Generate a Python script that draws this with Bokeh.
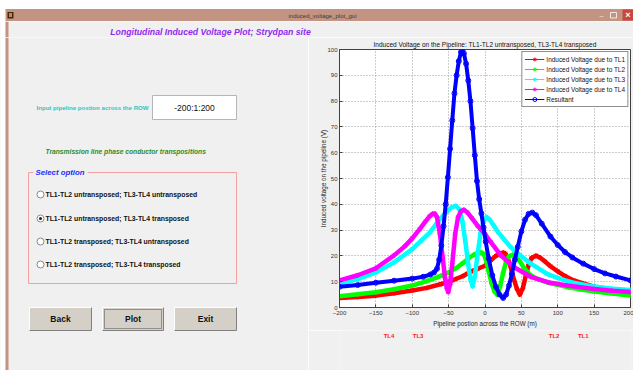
from bokeh.plotting import figure
from bokeh.models import Range1d, FixedTicker, Legend, LegendItem
from bokeh.layouts import row, column
from bokeh.embed import file_html
from bokeh.resources import INLINE
from bokeh.core.properties import value

FONT = "Liberation Sans"
GUI_BG = "#F0F0F0"
FRAME_BROWN = "#C39482"

# ---------------- data ----------------
x_ticks = [-200, -150, -100, -50, 0, 50, 100, 150, 200]
y_ticks = [0, 10, 20, 30, 40, 50, 60, 70, 80, 90, 100]

tl1_x = [-200, -175, -150, -125, -100, -80, -60, -45, -30, -20, -10, 0, 8, 15, 20, 25, 28, 31, 34, 37,
         40, 44, 48, 52, 56, 60, 64, 70, 76, 82, 90, 100, 110, 122, 135, 150, 175, 200]
tl1_v = [3.7, 4.1, 4.6, 5.5, 6.6, 7.6, 9.1, 10.5, 12.2, 13.9, 15.0, 16.2, 18.3, 20.0, 20.9, 21.3, 20.9, 19.4, 17.0, 13.8,
         10.6, 7.2, 5.0, 7.5, 12.2, 16.6, 19.2, 20.1, 19.3, 17.9, 16.0, 14.0, 12.2, 10.5, 9.3, 8.1, 6.7, 5.5]

tl2_x = [-200, -175, -150, -125, -100, -80, -65, -50, -40, -30, -22, -15, -10, -6, -2, 1, 5, 9, 13, 17,
         21, 25, 29, 33, 38, 43, 48, 54, 62, 70, 86, 100, 115, 130, 150, 175, 200]
tl2_v = [4.4, 5.1, 5.9, 7.1, 8.5, 10.2, 11.8, 13.6, 15.2, 17.3, 19.2, 20.5, 21.1, 21.4, 20.8, 18.8, 14.2, 9.4, 6.2, 5.0,
         8.5, 13.5, 17.8, 19.8, 20.4, 19.5, 17.8, 15.2, 12.7, 11.3, 9.7, 8.8, 7.8, 7.1, 6.2, 5.4, 4.6]

tl3_x = [-200, -175, -150, -125, -100, -88, -76, -64, -54, -46, -40, -35, -31, -27, -23, -20, -17, -14, -10, -6,
         -2, 2, 6, 12, 18, 25, 35, 45, 63, 86, 100, 118, 150, 175, 200]
tl3_v = [9.2, 11.0, 13.6, 17.5, 22.6, 25.8, 29.0, 33.5, 36.8, 38.8, 39.4, 38.0, 33.2, 25.5, 16.5, 11.0, 8.2, 12.0, 21.0, 29.0,
         33.5, 35.0, 34.2, 31.8, 29.2, 26.8, 23.5, 20.9, 17.0, 12.9, 11.5, 9.8, 8.1, 7.3, 6.8]

tl4_x = [-200, -175, -150, -125, -110, -100, -90, -82, -76, -72, -69, -66, -62, -58, -55, -52.5, -50.5, -48, -45, -41,
         -37, -33, -29, -24, -18, -10, 0, 8, 22, 40, 63, 86, 113, 150, 175, 200]
tl4_v = [10.5, 12.5, 15.2, 20.2, 23.8, 26.8, 30.3, 33.3, 35.4, 36.3, 36.4, 35.0, 28.5, 19.0, 11.5, 7.5, 6.0, 9.0, 17.0, 28.5,
         35.0, 37.3, 37.9, 36.8, 34.6, 31.6, 28.5, 25.3, 20.1, 15.6, 11.9, 9.8, 8.5, 7.2, 6.5, 6.0]

res_x = [-200, -175, -150, -125, -100, -85, -75, -70, -66, -63, -60, -57, -54, -51, -48, -45, -42, -39, -36, -33,
         -31, -29, -26, -23, -20, -17, -14, -11, -8, -5, -2, 1, 5, 10, 15, 20, 25, 29, 33, 37,
         41, 45, 50, 55, 60, 65, 70, 78, 90, 100, 110, 120, 135, 150, 165, 180, 200]
res_v = [8.0, 8.7, 9.6, 10.4, 11.2, 11.9, 12.8, 13.6, 15.0, 18.5, 24.0, 31.5, 40.0, 50.5, 61.5, 72.5, 83.0, 90.0, 95.5, 99.0,
         99.5, 98.5, 94.5, 88.0, 80.0, 69.5, 59.0, 49.0, 42.0, 36.5, 31.0, 25.5, 19.0, 12.5, 8.0, 5.0, 3.7, 5.0, 8.5, 13.0,
         18.5, 23.5, 29.5, 34.0, 36.3, 36.8, 35.8, 32.5, 27.5, 24.2, 21.5, 19.4, 17.0, 14.9, 13.2, 12.0, 10.5]

series_labels = ["Induced Voltage due to TL1", "Induced Voltage due to TL2",
                 "Induced Voltage due to TL3", "Induced Voltage due to TL4", "Resultant"]
series_colors = ["#FF0000", "#00FF00", "#00FFFF", "#FF00FF", "#0000FF"]

tl_names = ["TL4", "TL3", "TL2", "TL1"]
tl_pos = [-132, -92, 95, 135]

options = ["TL1-TL2 untransposed; TL3-TL4 untransposed",
           "TL1-TL2 untransposed; TL3-TL4 transposed",
           "TL1-TL2 transposed; TL3-TL4 untransposed",
           "TL1-TL2 transposed; TL3-TL4 transposed"]
selected_option = 1
buttons = ["Back", "Plot", "Exit"]

window_title = "induced_voltage_plot_gui"
header = "Longitudinal Induced Voltage Plot; Strydpan site"
chart_title = "Induced Voltage on the Pipeline: TL1-TL2 untransposed, TL3-TL4 transposed"


def canvas(w, h, bg):
    f = figure(width=w, height=h, x_range=Range1d(0, w), y_range=Range1d(h, 0),
               output_backend="svg", toolbar_location=None,
               x_axis_location=None, y_axis_location=None, min_border=0)
    f.outline_line_color = None
    f.background_fill_color = bg
    f.border_fill_color = bg
    f.grid.visible = False
    return f


def txt(f, x, y, s, size, color="#000000", style="normal", align="left", font=FONT):
    f.text(x=[x], y=[y], text=[s], text_font=value(font), text_font_size=size,
           text_font_style=style, text_color=color, text_align=align, text_baseline="middle")


def window_edge(f, h):
    f.quad(left=[0], right=[5], top=[0], bottom=[h], fill_color="#FFFFFF", line_color=None)
    f.quad(left=[5], right=[8], top=[0], bottom=[h], fill_color=FRAME_BROWN, line_color=None)


# ---------------- window title bar (page y 0..21) ----------------
top = canvas(633, 21, "#FFFFFF")
top.quad(left=[5], right=[633], top=[8.5], bottom=[21], fill_color=FRAME_BROWN, line_color=None)
top.quad(left=[7], right=[13], top=[11.5], bottom=[18], fill_color="#3A2A20", line_color=None)
top.quad(left=[8.5], right=[11.5], top=[12.5], bottom=[16.5], fill_color="#E08020", line_color=None)
txt(top, 322, 15, window_title, "6px", "#3A3A3A", align="center")
txt(top, 601, 14.5, "\u2013", "7px", "#F4E8E2", align="center")
top.quad(left=[610], right=[616], top=[12], bottom=[17.5], fill_color=None, line_color="#F4E8E2", line_width=1)
top.quad(left=[622], right=[633], top=[9], bottom=[20], fill_color="#C9463D", line_color=None)
txt(top, 627.5, 14.5, "\u00d7", "9px", "#FFFFFF", "bold", align="center")

# ---------------- header strip (page y 21..37) ----------------
head = canvas(633, 16, GUI_BG)
window_edge(head, 16)
txt(head, 210, 10.5, header, "8.7px", "#8F2BEF", "bold italic", align="center")

# ---------------- left GUI panel (page x 0..308, y 37..370); local y = page y - 37 ----------------
gui = canvas(308, 333, GUI_BG)
window_edge(gui, 333)
txt(gui, 36, 70, "Input pipeline postion across the ROW", "6.1px", "#2EC4C4", "bold")
gui.quad(left=[152], right=[236], top=[58], bottom=[82], fill_color="#FFFFFF", line_color="#B5B5B5")
txt(gui, 194, 70, "-200:1:200", "8.5px", "#111111", align="center")
txt(gui, 45, 114, "Transmission line phase conductor transpositions", "6.7px", "#2E8B2E", "bold italic")

gui.quad(left=[28], right=[236], top=[135], bottom=[246], fill_color=None, line_color="#F4A0A0", line_width=1)
gui.quad(left=[33], right=[87], top=[131], bottom=[139], fill_color=GUI_BG, line_color=None)
txt(gui, 35, 135, "Select option", "7.8px", "#2828FF", "bold italic")

radio_y = [157, 181, 204, 227]
for i, (ry, lab) in enumerate(zip(radio_y, options)):
    gui.scatter(x=[40], y=[ry], marker="circle", size=7, fill_color="#FFFFFF", line_color="#8A8A8A")
    if i == selected_option:
        gui.scatter(x=[40], y=[ry], marker="circle", size=3, fill_color="#222222", line_color=None)
    txt(gui, 45, ry, lab, "6.85px", "#111111", "bold")

btn_l = [29, 102, 174]
btn_r = [91, 163, 236]
for i, (bl, br, lab) in enumerate(zip(btn_l, btn_r, buttons)):
    gui.quad(left=[bl], right=[br], top=[270], bottom=[293], fill_color="#D4D0C8", line_color="#FFFFFF")
    gui.multi_line(xs=[[bl, br, br]], ys=[[293, 293, 270]], line_color="#808080", line_width=1)
    if i == 1:
        gui.quad(left=[bl + 2], right=[br - 2], top=[272], bottom=[291], fill_color=None,
                 line_color="#505050", line_dash="1 1")
    txt(gui, (bl + br) / 2, 281.5, lab, "8.5px", "#111111", "bold", align="center")

# ---------------- chart (page x 308..633, y 37..330) ----------------
p = figure(x_range=Range1d(-200, 200), y_range=Range1d(0, 100),
           frame_width=291, frame_height=258,
           min_border_left=31, min_border_right=3, min_border_top=12, min_border_bottom=23,
           output_backend="svg", toolbar_location=None, title=chart_title)
p.border_fill_color = GUI_BG
p.background_fill_color = "#FFFFFF"
p.outline_line_color = "#404040"
p.title.text_font = FONT
p.title.text_font_size = "6.5px"
p.title.text_font_style = "normal"
p.title.align = "center"
p.title.standoff = 3
p.title.text_color = "#111111"

p.xaxis.ticker = FixedTicker(ticks=x_ticks)
p.yaxis.ticker = FixedTicker(ticks=y_ticks)
p.xaxis.axis_label = "Pipeline postion across the ROW (m)"
p.yaxis.axis_label = "Induced voltage on the pipeline (V)"
for ax in (p.xaxis, p.yaxis):
    ax.major_label_text_font = FONT
    ax.major_label_text_font_size = "6px"
    ax.major_label_text_color = "#333333"
    ax.axis_label_text_font = FONT
    ax.axis_label_text_font_size = "6.3px"
    ax.axis_label_text_font_style = "normal"
    ax.axis_label_text_color = "#222222"
    ax.major_tick_in = 3
    ax.major_tick_out = 0
    ax.minor_tick_line_color = None
    ax.axis_line_color = "#404040"
    ax.major_tick_line_color = "#404040"
    ax.major_label_standoff = 2
p.xaxis.major_label_standoff = 3
p.xaxis.axis_label_standoff = 2
p.yaxis.axis_label_standoff = -3

p.grid.grid_line_color = "#9A9A9A"
p.grid.grid_line_dash = "1 2"
p.grid.grid_line_width = 1

series = [(tl1_x, tl1_v), (tl2_x, tl2_v), (tl3_x, tl3_v), (tl4_x, tl4_v), (res_x, res_v)]
items = []
for i, ((sx, sv), c, lab) in enumerate(zip(series, series_colors, series_labels)):
    if i < 4:
        p.line(sx, sv, line_color=c, line_width=4.5, line_join="round", line_cap="round")
        lr = p.line(sx, sv, line_color=c, line_width=1)
        sr = p.scatter(sx, sv, marker="asterisk", size=5, line_color=c, line_width=1)
    else:
        p.line(sx, sv, line_color=c, line_width=4, line_join="round", line_cap="round")
        lr = p.line(sx, sv, line_color=c, line_width=1)
        sr = p.scatter(sx, sv, marker="circle", size=5, fill_color=None, line_color=c, line_width=1)
    items.append(LegendItem(label=lab, renderers=[lr, sr]))

legend = Legend(items=items, location="top_right", margin=2, padding=2, spacing=0,
                label_height=10, glyph_height=10, glyph_width=20, label_standoff=2,
                label_text_font=FONT, label_text_font_size="6.45px", label_text_color="#111111",
                border_line_color="#222222", border_line_width=1, background_fill_color="#FFFFFF",
                background_fill_alpha=1.0)
p.add_layout(legend)

# ---------------- transmission line position labels (page y 330..370) ----------------
tl = figure(x_range=p.x_range, y_range=Range1d(40, 0), frame_width=291, frame_height=40,
            min_border_left=31, min_border_right=3, min_border_top=0, min_border_bottom=0,
            x_axis_location=None, y_axis_location=None,
            output_backend="svg", toolbar_location=None)
tl.outline_line_color = None
tl.background_fill_color = GUI_BG
tl.border_fill_color = GUI_BG
tl.grid.visible = False
tl.text(x=tl_pos, y=[5] * len(tl_pos), text=tl_names, text_font=value(FONT), text_font_size="6px",
        text_font_style="bold", text_color="#FF1A1A", text_align="center", text_baseline="middle")

layout = column(top, head, row(gui, column(p, tl)))
open("out.html", "w").write(file_html(layout, INLINE))
